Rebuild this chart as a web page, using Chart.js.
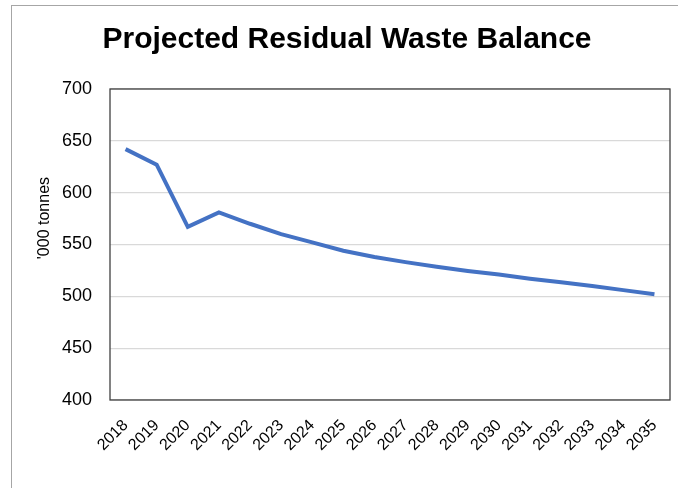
<!DOCTYPE html>
<html>
<head>
<meta charset="utf-8">
<script src="https://cdn.jsdelivr.net/npm/chart.js@4"></script>
<style>
  html, body { margin: 0; padding: 0; background: #fff; overflow: hidden; }
  #frame { position: absolute; left: 11px; top: 5px; width: 700px; height: 520px; border: 1px solid #a6a6a6; }
  #wrap { position: absolute; left: 0; top: 0; width: 678px; height: 488px; }
</style>
</head>
<body>
<div id="frame"></div>
<div id="wrap"><canvas id="wasteChart" width="678" height="488"></canvas></div>
<script>
var years = ['2018', '2019', '2020', '2021', '2022', '2023', '2024', '2025', '2026',
             '2027', '2028', '2029', '2030', '2031', '2032', '2033', '2034', '2035'];
var residualWaste = [642, 627, 567, 581, 570, 560, 552, 544, 538,
                     533, 528.5, 524.5, 521, 517, 513.5, 510, 506, 502];
var yTicks = [400, 450, 500, 550, 600, 650, 700];
var yTitle = "'000 tonnes";

var fontFamily = "'Liberation Sans', Arial, sans-serif";

document.addEventListener("DOMContentLoaded", function() {
    var ctx = document.getElementById('wasteChart').getContext('2d');

    // box round the plot area + the y axis title (sits a bit above centre in the original)
    var plotBox = {
        id: 'plotBox',
        afterDraw: function(chart) {
            var a = chart.chartArea;
            var c = chart.ctx;
            c.save();
            c.strokeStyle = '#404040';
            c.lineWidth = 1.3;
            c.strokeRect(a.left, a.top, a.right - a.left, a.bottom - a.top);

            c.translate(a.left - 65, a.top + (a.bottom - a.top) * 0.415);
            c.rotate(-Math.PI / 2);
            c.fillStyle = '#000';
            c.font = '16px ' + fontFamily;
            c.textAlign = 'center';
            c.textBaseline = 'middle';
            c.fillText(yTitle, 0, 0);
            c.restore();
        }
    };

    new Chart(ctx, {
        type: 'line',
        data: {
            labels: years,
            datasets: [{
                label: 'Residual waste',
                data: residualWaste,
                borderColor: '#4472C4',
                backgroundColor: '#4472C4',
                borderWidth: 4,
                pointRadius: 0,
                tension: 0,
                fill: false
            }]
        },
        options: {
            responsive: false,
            animation: false,
            devicePixelRatio: 1,
            layout: { padding: { left: 24, right: 8, top: 0, bottom: 0 } },
            plugins: {
                legend: { display: false },
                tooltip: { enabled: false },
                title: {
                    display: true,
                    text: 'Projected Residual Waste Balance',
                    color: '#000',
                    font: { family: fontFamily, size: 30, weight: 'bold' },
                    padding: { top: 22, bottom: 31 }
                }
            },
            scales: {
                x: {
                    offset: true,
                    grid: { display: false, drawTicks: false },
                    border: { display: false },
                    ticks: {
                        color: '#000',
                        font: { family: fontFamily, size: 16 },
                        maxRotation: 45,
                        minRotation: 45,
                        autoSkip: false,
                        padding: 16
                    },
                    afterFit: function(scale) {
                        scale.height = 88;
                        scale.paddingLeft = 0;
                        scale.paddingRight = 0;
                    }
                },
                y: {
                    min: 400,
                    max: 700,
                    afterBuildTicks: function(scale) {
                        scale.ticks = yTicks.map(function(v) { return { value: v }; });
                    },
                    grid: { color: '#d9d9d9', lineWidth: 1.3, drawTicks: false },
                    border: { display: false },
                    ticks: {
                        color: '#000',
                        font: { family: fontFamily, size: 18 },
                        padding: 18
                    },
                    afterFit: function(scale) { scale.width = 86; }
                }
            }
        },
        plugins: [plotBox]
    });
});
</script>
</body>
</html>
